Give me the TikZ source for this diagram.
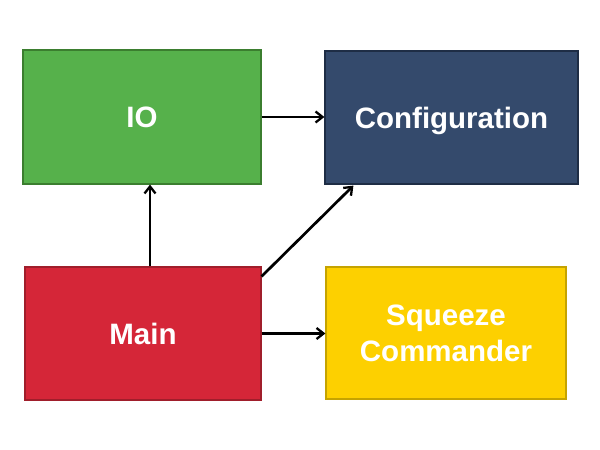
\documentclass[tikz,border=0pt]{standalone}
\usepackage{fontspec}
\setmainfont{Liberation Sans}
\usetikzlibrary{arrows.meta}
\definecolor{gfill}{HTML}{56B14B}\definecolor{gline}{HTML}{3B7E2F}
\definecolor{bfill}{HTML}{344A6C}\definecolor{bline}{HTML}{1E2D45}
\definecolor{rfill}{HTML}{D52638}\definecolor{rline}{HTML}{A01E2B}
\definecolor{yfill}{HTML}{FDD000}\definecolor{yline}{HTML}{C5A300}
\tikzset{
  box/.style={draw, line width=1.2pt, inner sep=0pt, align=center, text=white,
    font=\fontsize{29.5}{36}\selectfont\bfseries},
  arr/.style={line width=2.7pt, -{Straight Barb[length=7pt,width=11pt,line width=2.3pt]}}
}
\begin{document}
\begin{tikzpicture}[x=1pt,y=-1pt]
\useasboundingbox (0,0) rectangle (600,450);
\node[box, fill=gfill, draw=gline, minimum width=238pt, minimum height=134pt] (io) at (142,117) {IO};
\node[box, fill=bfill, draw=bline, minimum width=253pt, minimum height=133pt, text depth=0pt] (cfg) at (451.5,117.5) {Configuration};
\node[box, fill=rfill, draw=rline, minimum width=236pt, minimum height=133pt] (main) at (143,333.5) {Main};
\node[box, fill=yfill, draw=yline, minimum width=240pt, minimum height=132pt] (sq) at (446,333) {Squeeze\\Commander};
\draw[arr] (io.east) -- (io.east -| cfg.west);
\draw[arr] ([xshift=7pt]main.north) -- ([xshift=7pt]main.north |- io.south);
\draw[arr] ([yshift=-10pt]main.north east) -- ([xshift=29pt,yshift=-1pt]cfg.south west);
\draw[arr] (main.east) -- (main.east -| sq.west);
\end{tikzpicture}
\end{document}
